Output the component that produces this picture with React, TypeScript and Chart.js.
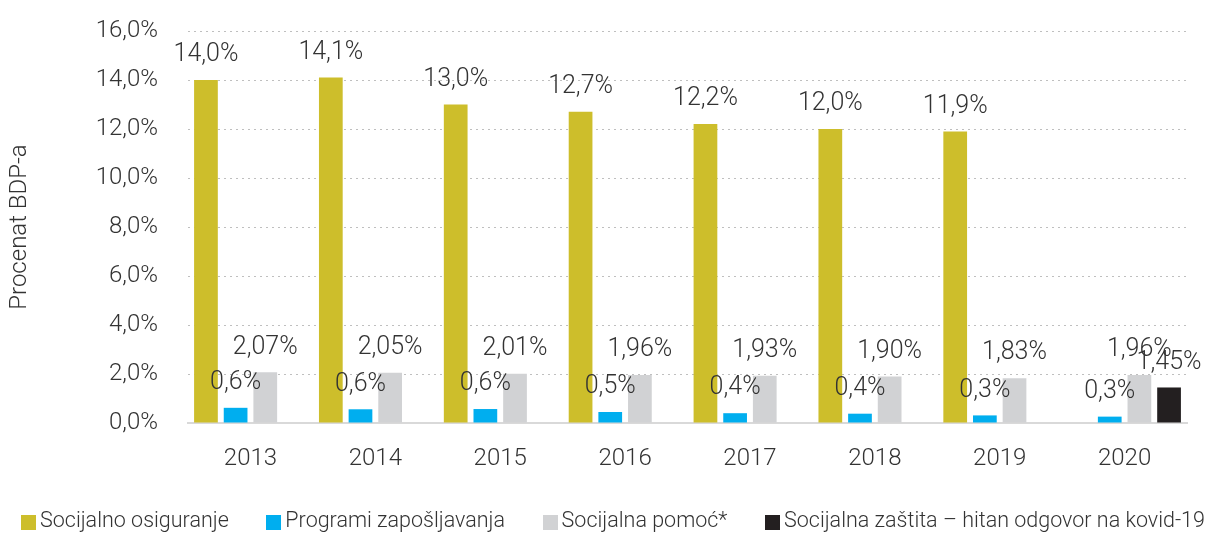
import React, { useEffect, useRef } from "react";
import { Chart, registerables } from "chart.js";

Chart.register(...registerables);

const FONT = "'Roboto', 'DejaVu Sans Condensed', sans-serif";
const WEIGHT = 300;
const TEXT = "#333333";

const categories = ["2013", "2014", "2015", "2016", "2017", "2018", "2019", "2020"];
const seriesNames = [
  "Socijalno osiguranje",
  "Programi zapošljavanja",
  "Socijalna pomoć*",
  "Socijalna zaštita – hitan odgovor na kovid-19",
];
const seriesColors = ["#CDBE2B", "#00AEEF", "#D1D2D4", "#231F20"];
const seriesDecimals = [1, 1, 2, 2];

const socijalnoOsiguranje = [14.0, 14.1, 13.0, 12.7, 12.2, 12.0, 11.9, null];
const programiZaposljavanja = [0.62, 0.56, 0.57, 0.45, 0.4, 0.38, 0.31, 0.26];
const socijalnaPomoc = [2.07, 2.05, 2.01, 1.96, 1.93, 1.9, 1.83, 1.96];
const kovidOdgovor = [null, null, null, null, null, null, null, 1.45];

const yTicks = [0, 2, 4, 6, 8, 10, 12, 14, 16];

const fmt = (v: number, d: number) => v.toFixed(d).replace(".", ",") + "%";

const valueLabels = {
  id: "valueLabels",
  afterDatasetsDraw(chart: any) {
    const ctx = chart.ctx;
    ctx.save();
    ctx.font = `${WEIGHT} 25px ${FONT}`;
    ctx.fillStyle = TEXT;
    ctx.textAlign = "center";
    ctx.textBaseline = "middle";
    chart.data.datasets.forEach((ds: any, i: number) => {
      const meta = chart.getDatasetMeta(i);
      meta.data.forEach((el: any, j: number) => {
        const v = ds.data[j];
        if (v == null) return;
        ctx.fillText(fmt(v, seriesDecimals[i]), el.x, el.y - 25);
      });
    });
    ctx.restore();
  },
};

export default function App() {
  const ref = useRef<HTMLCanvasElement>(null);

  useEffect(() => {
    if (!ref.current) return;
    const allSeries = [socijalnoOsiguranje, programiZaposljavanja, socijalnaPomoc, kovidOdgovor];
    const chart = new Chart(ref.current, {
      type: "bar",
      data: {
        labels: categories,
        datasets: allSeries.map((d, i) => ({
          label: seriesNames[i],
          data: d,
          backgroundColor: seriesColors[i],
          borderWidth: 0,
          categoryPercentage: 0.95,
          barPercentage: 0.8,
        })),
      },
      options: {
        responsive: false,
        animation: false,
        layout: { padding: { top: 31, right: 21, bottom: 60, left: 0 } },
        plugins: {
          legend: { display: false },
          tooltip: { enabled: false },
        },
        scales: {
          x: {
            grid: { display: false },
            border: { display: true, color: "#D9D9D9", width: 2 },
            ticks: {
              color: TEXT,
              font: { family: FONT, size: 24, weight: WEIGHT },
              padding: 14,
            },
            afterFit: (s: any) => {
              s.height = 50;
            },
          },
          y: {
            min: 0,
            max: 16,
            afterBuildTicks: (s: any) => {
              s.ticks = yTicks.map((v) => ({ value: v }));
            },
            grid: {
              color: (c: any) => (c.tick && c.tick.value === 0 ? "rgba(0,0,0,0)" : "#BFBFBF"),
              lineWidth: 1,
              drawTicks: false,
            },
            border: { display: false, dash: [2, 4] },
            ticks: {
              color: TEXT,
              font: { family: FONT, size: 24, weight: WEIGHT },
              padding: 30,
              callback: (v: any) => fmt(Number(v), 1),
            },
            title: {
              display: true,
              text: "Procenat BDP-a",
              color: TEXT,
              font: { family: FONT, size: 24, weight: WEIGHT },
              padding: { top: 6, bottom: 0 },
            },
            afterFit: (s: any) => {
              s.width = 188;
              s.paddingTop = 0;
              s.paddingBottom = 0;
            },
          },
        },
      },
      plugins: [valueLabels],
    });
    return () => chart.destroy();
  }, []);

  return (
    <div style={{ position: "fixed", left: 0, top: 0, width: 1208, height: 533, background: "#fff" }}>
      <canvas ref={ref} width={1208} height={533} style={{ position: "absolute", left: 0, top: 0 }} />
      <div
        style={{
          position: "absolute",
          left: 21,
          top: 505,
          width: 1184,
          display: "flex",
          justifyContent: "space-between",
          fontFamily: FONT,
          fontWeight: WEIGHT,
          fontSize: 21.5,
          color: TEXT,
          whiteSpace: "nowrap",
          lineHeight: "30px",
        }}
      >
        {seriesNames.map((n, i) => (
          <div key={n} style={{ display: "flex", alignItems: "center" }}>
            <span
              style={{
                display: "inline-block",
                width: 15,
                height: 15,
                background: seriesColors[i],
                marginRight: 4,
                marginTop: 4,
              }}
            />
            <span>{n}</span>
          </div>
        ))}
      </div>
    </div>
  );
}
